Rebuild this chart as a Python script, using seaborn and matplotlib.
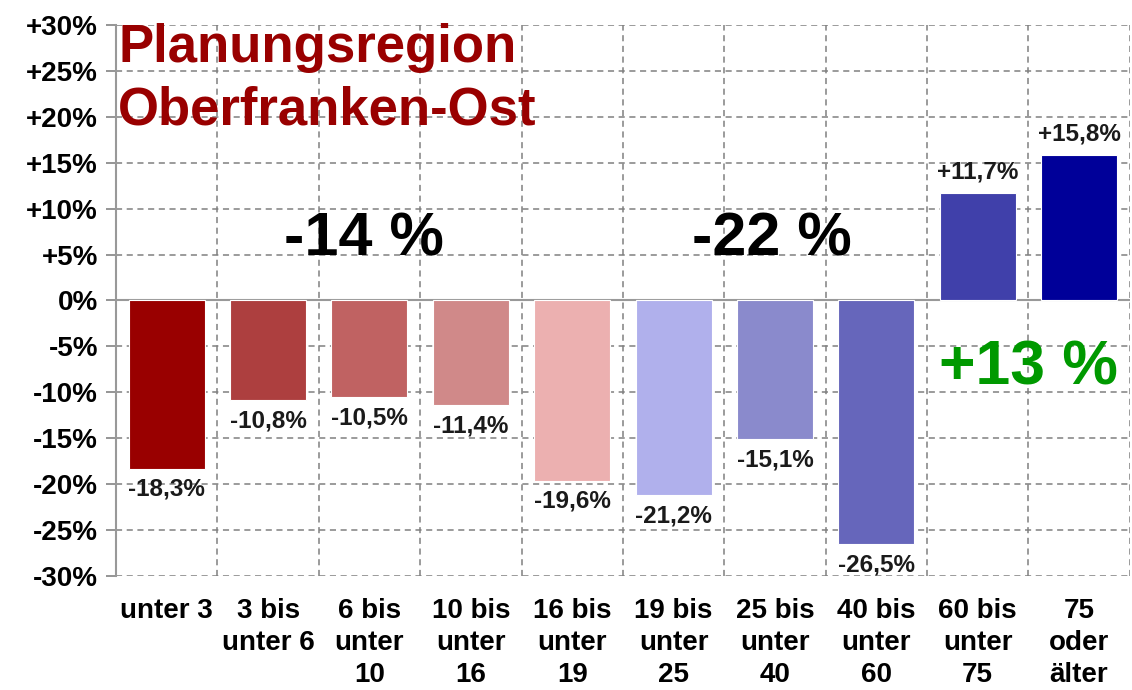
import matplotlib
matplotlib.use("Agg")
import matplotlib.pyplot as plt
import seaborn as sns
import pandas as pd

# data
categories = ["unter 3", "3 bis\nunter 6", "6 bis\nunter\n10", "10 bis\nunter\n16",
              "16 bis\nunter\n19", "19 bis\nunter\n25", "25 bis\nunter\n40",
              "40 bis\nunter\n60", "60 bis\nunter\n75", "75\noder\nälter"]
values = [-18.3, -10.8, -10.5, -11.4, -19.6, -21.2, -15.1, -26.5, 11.7, 15.8]
bar_colors = ["#990000", "#AD3F3F", "#C06262", "#D08989", "#ECB0B0",
              "#B0B0EC", "#8A8ACC", "#6666BB", "#4040AA", "#000099"]
y_ticks = list(range(-30, 31, 5))
group_labels = ["-14 %", "-22 %", "+13 %"]

sns.set_theme(style="white")
plt.rcParams["font.family"] = ["Liberation Sans", "DejaVu Sans"]
plt.rcParams["font.weight"] = "bold"

df = pd.DataFrame({"cat": categories, "val": values})

fig, ax = plt.subplots(figsize=(11.32, 6.9), dpi=100)
fig.subplots_adjust(left=0.1025, right=0.998, top=0.964, bottom=0.165)

sns.barplot(data=df, x="cat", y="val", hue="cat", palette=bar_colors,
            legend=False, width=0.75, saturation=1, edgecolor="white",
            linewidth=0.8, ax=ax, zorder=3)

ax.set_xlim(-0.5, len(categories) - 0.5)
ax.set_ylim(-30, 30)
ax.set_yticks(y_ticks)
ax.set_yticklabels([f"+{t}%" if t > 0 else f"{t}%" for t in y_ticks])
ax.set_xlabel("")
ax.set_ylabel("")

# dashed grid, vertical lines between categories
ax.set_xticks([i + 0.5 for i in range(len(categories))], minor=True)
ax.grid(False)
ax.yaxis.grid(True, color="#808080", linestyle=(0, (4, 3)), linewidth=1.1)
ax.xaxis.grid(True, which="minor", color="#808080", linestyle=(0, (4, 3)), linewidth=1.1)
ax.set_axisbelow(True)
ax.axhline(0, color="#999999", linewidth=1.5, zorder=2)

for side in ["top", "right", "bottom"]:
    ax.spines[side].set_visible(False)
ax.spines["left"].set_color("#999999")
ax.spines["left"].set_linewidth(1.5)

ax.tick_params(axis="y", which="major", left=True, length=7, color="#888888",
               labelsize=20, pad=6, labelcolor="black")
ax.tick_params(axis="x", which="major", bottom=False, labelsize=20, pad=10,
               labelcolor="black")
ax.tick_params(axis="x", which="minor", bottom=False)
for lbl in ax.get_xticklabels():
    lbl.set_linespacing(1.3)
    lbl.set_verticalalignment("top")
for lbl in ax.get_yticklabels() + ax.get_xticklabels():
    lbl.set_fontweight("bold")

# value labels
for i, v in enumerate(values):
    txt = (f"+{v:.1f}%" if v > 0 else f"{v:.1f}%").replace(".", ",")
    off = 15 if v > 0 else -15
    ax.annotate(txt, (i, v), xytext=(0, off), textcoords="offset points",
                ha="center", va="center", fontsize=17.5, fontweight="bold",
                color="#1a1a1a", zorder=4)

# group summaries
ax.text(1.95, 6.6, group_labels[0], ha="center", va="center", fontsize=44,
        fontweight="bold", color="black", zorder=5)
ax.text(5.97, 6.6, group_labels[1], ha="center", va="center", fontsize=44,
        fontweight="bold", color="black", zorder=5)
ax.text(8.5, -7.4, group_labels[2], ha="center", va="center", fontsize=45,
        fontweight="bold", color="#009900", zorder=5)

# title
fig.text(118 / 1132, 0.910, "Planungsregion", ha="left", va="baseline",
         fontsize=38, fontweight="bold", color="#990000")
fig.text(118 / 1132, 0.819, "Oberfranken-Ost", ha="left", va="baseline",
         fontsize=38, fontweight="bold", color="#990000")

fig.savefig("out.png", dpi=100)
